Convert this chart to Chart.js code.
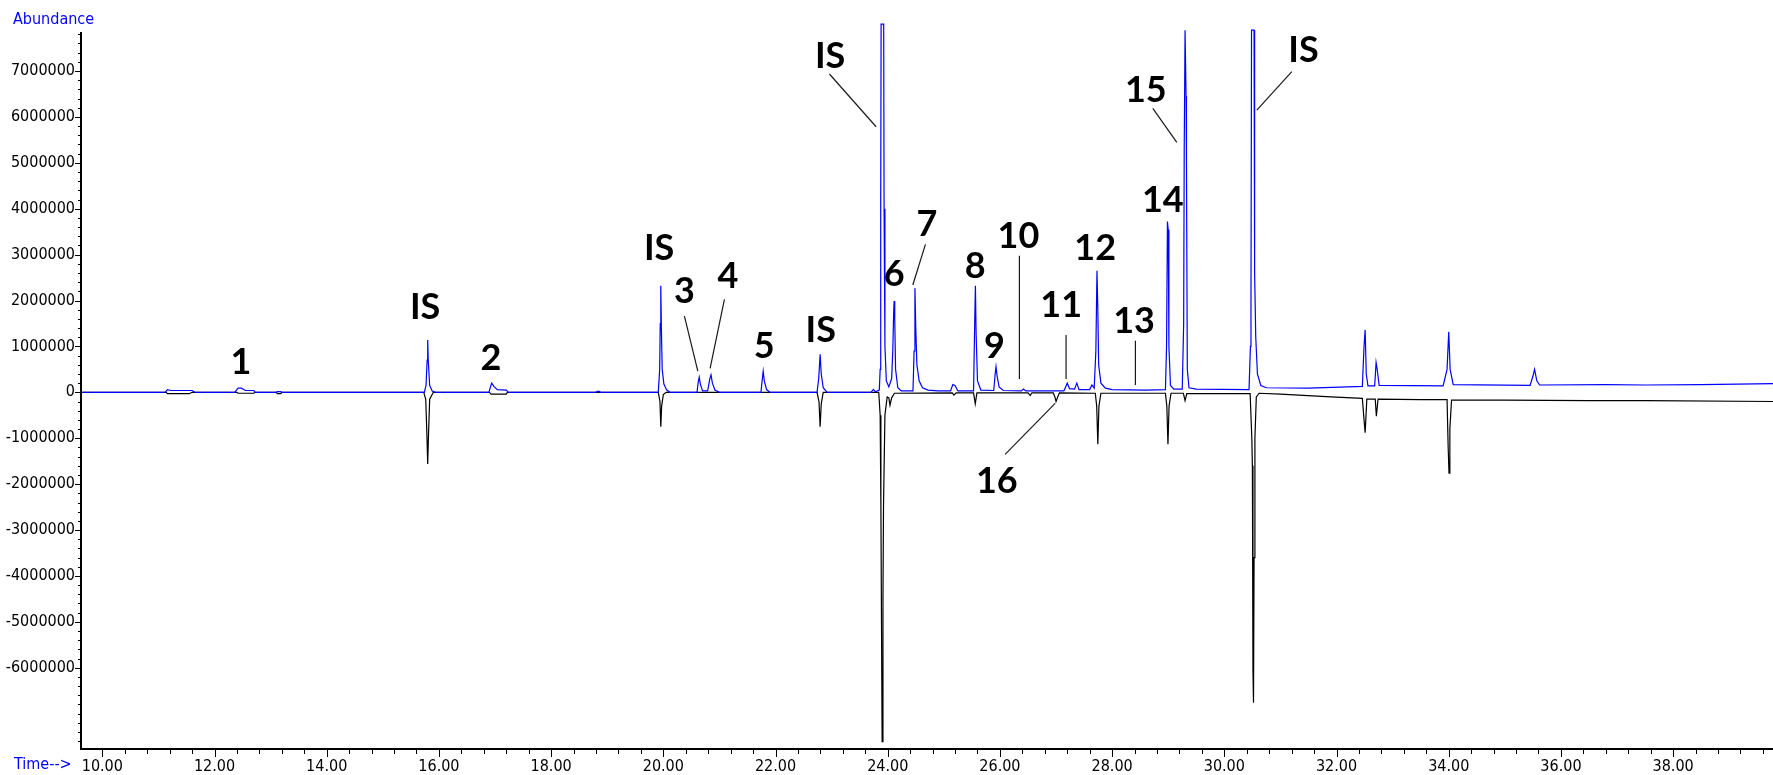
<!DOCTYPE html>
<html><head><meta charset="utf-8">
<script src="https://cdn.jsdelivr.net/npm/chart.js@4.4.1/dist/chart.umd.min.js"></script>
<style>html,body{margin:0;padding:0;background:#fff;overflow:hidden}canvas{display:block}</style>
</head><body>
<canvas id="c" width="1773" height="775" style="width:1773px;height:775px"></canvas>
<script>
// ---- data (time in min, abundance) ----
const blueTime = [9.62,
 11.12,11.16,11.22,11.60,11.65,
 12.36,12.42,12.48,12.55,12.70,12.73,
 13.10,13.12,13.18,13.20,
 15.74,15.77,15.79,15.80,15.81,15.835,15.88,15.94,
 16.89,16.94,16.98,17.04,17.20,17.24,
 18.80,18.82,18.86,18.88,
 19.91,19.935,19.945,19.955,19.965,19.98,20.01,20.06,20.12,
 20.60,20.625,20.64,20.66,20.70,20.79,20.83,20.85,20.875,20.92,21.00,
 21.74,21.765,21.78,21.80,21.84,21.90,
 22.74,22.77,22.795,22.815,22.85,22.92,
 23.70,23.745,23.78,23.85,23.865,23.875,23.882,23.928,23.935,23.95,23.975,24.02,
 24.07,24.09,24.105,24.114,24.125,24.14,24.18,24.24,
 24.45,24.47,24.485,24.50,24.52,24.56,24.62,24.72,24.90,
 25.12,25.16,25.20,25.25,
 25.53,25.55,25.563,25.575,25.60,25.66,
 25.89,25.915,25.93,25.95,25.985,26.06,
 26.38,26.42,26.46,
 27.14,27.20,27.24,27.33,27.37,27.41,27.60,27.64,27.68,
 27.71,27.73,27.745,27.76,27.80,27.88,28.00,
 28.60,28.95,28.97,28.986,29.00,29.012,29.04,29.10,
 29.25,29.275,29.285,29.30,29.312,29.318,29.325,29.34,29.37,29.50,
 30.44,30.465,30.475,30.485,30.53,30.54,30.56,30.59,30.65,30.75,
 31.50,32.20,32.46,32.49,32.51,32.53,32.56,
 32.68,32.705,32.725,32.76,
 33.90,33.97,34.00,34.025,34.08,
 35.45,35.50,35.53,35.57,35.62,
 36.80,37.50,38.50,39.78];
const blueAbund = [0,
 0,60000,40000,40000,0,
 0,90000,90000,40000,40000,0,
 0,15000,15000,0,
 0,150000,700000,1140000,700000,150000,30000,0,
 0,200000,130000,60000,50000,0,
 0,20000,20000,0,
 0,500000,1500000,2320000,1400000,500000,180000,50000,0,
 0,250000,330000,180000,30000,30000,300000,380000,200000,50000,0,
 0,300000,460000,250000,60000,0,
 0,300000,830000,400000,100000,0,
 0,65000,10000,50000,500000,4100000,8020000,8020000,4000000,1000000,250000,120000,
 300000,900000,1700000,1990000,1600000,500000,100000,30000,
 30000,900000,2270000,1400000,600000,250000,100000,50000,30000,
 30000,170000,150000,30000,
 30000,1500000,2320000,1300000,250000,50000,
 40000,400000,560000,350000,120000,40000,
 30000,70000,30000,
 30000,200000,80000,70000,200000,60000,60000,160000,90000,
 900000,2650000,1800000,600000,200000,90000,60000,
 50000,60000,1000000,3720000,3540000,1000000,150000,70000,
 70000,1500000,5300000,7890000,7890000,6450000,5000000,500000,100000,70000,
 60000,1000000,2000000,7890000,7890000,2600000,1200000,400000,150000,100000,
 90000,120000,130000,1000000,1360000,400000,140000,
 140000,650000,500000,150000,
 140000,500000,1320000,500000,170000,
 150000,350000,500000,250000,160000,
 170000,160000,170000,190000];

const blackTime = [9.62,11.14,11.16,11.55,11.60,
 12.40,12.42,12.70,12.72,
 13.10,13.12,13.18,13.20,
 15.73,15.765,15.785,15.80,15.815,15.835,15.90,
 16.90,16.93,17.20,17.22,
 19.91,19.94,19.955,19.97,20.00,20.05,
 22.74,22.775,22.795,22.815,22.85,
 23.84,23.865,23.878,23.90,23.915,23.925,23.95,23.99,
 24.02,24.04,24.07,24.12,
 25.15,25.18,25.22,
 25.53,25.56,25.59,
 26.50,26.54,26.57,
 26.95,26.98,27.00,27.03,27.06,
 27.70,27.725,27.745,27.765,27.80,
 28.95,28.975,28.995,29.015,29.05,
 29.27,29.30,29.33,
 30.46,30.49,30.50,30.51,30.52,30.53,30.545,30.57,30.62,
 31.00,31.90,32.46,32.49,32.51,32.54,
 32.69,32.71,32.74,
 33.50,33.97,33.99,34.005,34.02,34.05,
 35.00,36.50,37.50,39.78];
const blackAbund = [0,0,-30000,-30000,0,
 0,-20000,-20000,0,
 0,-30000,-30000,0,
 0,-150000,-900000,-1560000,-900000,-150000,0,
 0,-40000,-40000,0,
 0,-200000,-750000,-300000,-50000,0,
 0,-200000,-750000,-250000,0,
 0,-500000,-2450000,-7610000,-4450000,-2450000,-500000,-100000,
 -120000,-280000,-120000,-20000,
 -10000,-60000,-10000,
 -10000,-250000,-10000,
 -10000,-70000,-10000,
 -10000,-100000,-200000,-100000,-10000,
 -20000,-300000,-1130000,-300000,-20000,
 -20000,-300000,-1130000,-300000,-20000,
 -20000,-180000,-30000,
 -30000,-1000000,-1600000,-6050000,-6760000,-3600000,-1000000,-100000,-20000,
 -40000,-100000,-130000,-600000,-880000,-150000,
 -150000,-520000,-150000,
 -160000,-160000,-1200000,-1760000,-800000,-170000,
 -170000,-180000,-180000,-200000];

const xTickLabels = ['10.00','12.00','14.00','16.00','18.00','20.00','22.00','24.00','26.00','28.00','30.00','32.00','34.00','36.00','38.00'];
const yTickLabels = ['7000000','6000000','5000000','4000000','3000000','2000000','1000000','0','-1000000','-2000000','-3000000','-4000000','-5000000','-6000000'];

// peak annotations (anchored in data units)
const peakLabels     = ['1','IS','2','IS','3','4','5','IS','IS','6','7','8','9','10','11','12','13','14','15','IS','16'];
const peakLabelTime  = [12.469,15.754,16.925,19.925,20.376,21.150,21.797,22.807,22.973,24.114,24.697,25.558,25.902,26.330,27.091,27.697,28.392,28.904,28.601,31.410,25.945];
const peakLabelAbund = [682000,1887000,776000,3172000,2229000,2556000,1031000,1373000,7349000,2606000,3695000,2773000,1031000,3427000,1924000,3172000,1575000,4211000,6608000,7473000,-1911000];
const leaderLines = [
 [20.376,1662000,20.615,464000],
 [21.089,2026000,20.834,523000],
 [22.961,6935000,23.793,5786000],
 [24.672,3224000,24.447,2338000],
 [26.347,2976000,26.347,290000],
 [27.179,1248000,27.179,290000],
 [28.415,1124000,28.415,159000],
 [28.725,6187000,29.153,5447000],
 [31.203,6985000,30.579,6150000],
 [26.093,-1351000,26.984,-240000]
];

const X_MIN = 9.62, X_MAX = 39.78, Y_MIN = -7770000, Y_MAX = 7850000;
const SMALL_FONT = "'Liberation Sans Narrow','Arial Narrow','DejaVu Sans Condensed',sans-serif";

const toPts = (t, v) => t.map((x, i) => ({x, y: v[i]}));

const decorPlugin = {
  id: 'decor',
  afterDatasetsDraw(chart) {
    const {ctx, scales: {x, y}} = chart;
    ctx.save();
    ctx.strokeStyle = '#1a1a1a';
    ctx.lineWidth = 1.2;
    leaderLines.forEach(l => {
      ctx.beginPath();
      ctx.moveTo(x.getPixelForValue(l[0]), y.getPixelForValue(l[1]));
      ctx.lineTo(x.getPixelForValue(l[2]), y.getPixelForValue(l[3]));
      ctx.stroke();
    });
    ctx.fillStyle = '#000';
    ctx.font = "bold 36px Lato, 'Open Sans', sans-serif";
    ctx.textAlign = 'center';
    ctx.textBaseline = 'alphabetic';
    peakLabels.forEach((s, i) => {
      ctx.fillText(s, x.getPixelForValue(peakLabelTime[i]), y.getPixelForValue(peakLabelAbund[i]) + 13);
    });
    ctx.restore();
  },
  afterDraw(chart) {
    const {ctx, chartArea: a, scales: {x, y}} = chart;
    ctx.save();
    ctx.strokeStyle = '#000';
    ctx.lineWidth = 2;
    ctx.beginPath();
    ctx.moveTo(a.left, a.top);
    ctx.lineTo(a.left, a.bottom);
    ctx.lineTo(a.right, a.bottom);
    ctx.stroke();
    ctx.lineWidth = 1;
    ctx.beginPath();
    for (let v = -7600000; v <= Y_MAX; v += 200000) {
      const py = Math.round(y.getPixelForValue(v)) + 0.5;
      ctx.moveTo(a.left - 3, py); ctx.lineTo(a.left, py);
    }
    yTickLabels.forEach(l => {
      const py = Math.round(y.getPixelForValue(parseFloat(l))) + 0.5;
      ctx.moveTo(a.left - 6, py); ctx.lineTo(a.left, py);
    });
    for (let k = 0; k * 0.4 + 10 <= X_MAX; k++) {
      const px = Math.round(x.getPixelForValue(10 + k * 0.4)) + 0.5;
      ctx.moveTo(px, a.bottom); ctx.lineTo(px, a.bottom + 5);
    }
    xTickLabels.forEach(l => {
      const px = Math.round(x.getPixelForValue(parseFloat(l))) + 0.5;
      ctx.moveTo(px, a.bottom); ctx.lineTo(px, a.bottom + 8);
    });
    ctx.stroke();
    ctx.fillStyle = '#0000ff';
    ctx.font = '16px ' + SMALL_FONT;
    ctx.textAlign = 'left';
    ctx.textBaseline = 'middle';
    ctx.fillText('Abundance', 13, 20);
    ctx.fillText('Time-->', 14, 765);
    ctx.restore();
  }
};

new Chart(document.getElementById('c'), {
  type: 'line',
  data: {
    datasets: [
      { label: 'sample', data: toPts(blueTime, blueAbund), borderColor: '#0000ff', borderWidth: 1.2,
        pointRadius: 0, tension: 0, fill: false, clip: {left: 0, top: 12, right: 0, bottom: 0} },
      { label: 'reference', data: toPts(blackTime, blackAbund), borderColor: '#000000', borderWidth: 1.2,
        pointRadius: 0, tension: 0, fill: false }
    ]
  },
  options: {
    responsive: false,
    animation: false,
    devicePixelRatio: 1,
    layout: { padding: { top: 32, right: 0, left: 0, bottom: 0 } },
    plugins: { legend: { display: false }, tooltip: { enabled: false } },
    scales: {
      x: {
        type: 'linear', min: X_MIN, max: X_MAX,
        grid: { display: false, drawTicks: false }, border: { display: false },
        afterBuildTicks: s => { s.ticks = xTickLabels.map(l => ({ value: parseFloat(l) })); },
        afterFit: s => { s.height = 26; },
        ticks: { autoSkip: false, maxRotation: 0, padding: 8, color: '#000',
          font: { family: SMALL_FONT, size: 16 },
          callback: (v, i) => xTickLabels[i] }
      },
      y: {
        type: 'linear', min: Y_MIN, max: Y_MAX,
        grid: { display: false, drawTicks: false }, border: { display: false },
        afterBuildTicks: s => { s.ticks = yTickLabels.map(l => ({ value: parseFloat(l) })); },
        afterFit: s => { s.width = 81; },
        ticks: { autoSkip: false, padding: 6, color: '#000',
          font: { family: SMALL_FONT, size: 16 },
          callback: (v, i) => yTickLabels[i] }
      }
    }
  },
  plugins: [decorPlugin]
});
</script>
</body></html>
